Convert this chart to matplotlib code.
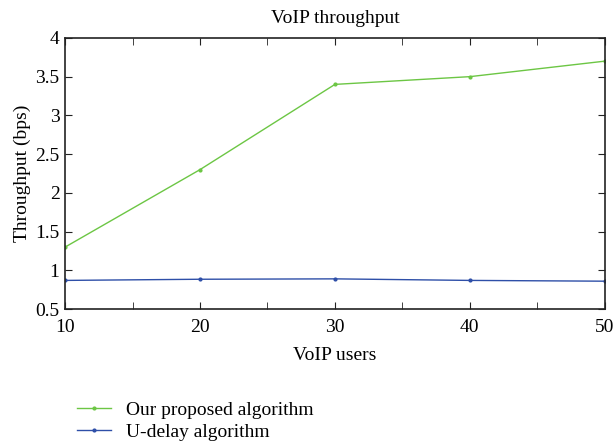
import matplotlib
matplotlib.use('Agg')
import matplotlib.pyplot as plt
from matplotlib.ticker import MultipleLocator

plt.rcParams['font.family'] = ['Liberation Serif', 'DejaVu Serif']

# data
users = [10, 20, 30, 40, 50]
proposed = [1.3, 2.3, 3.4, 3.5, 3.7]
udelay = [0.87, 0.885, 0.89, 0.87, 0.86]
yticks = [0.5, 1, 1.5, 2, 2.5, 3, 3.5, 4]
ylabels = ['0.5', '1', '1.5', '2', '2.5', '3', '3.5', '4']

fig = plt.figure(figsize=(6.14, 4.46), dpi=100)
ax = fig.add_axes([0.106, 0.307, 0.879, 0.608])

ax.plot(users, proposed, color='#6cc644', lw=1.0, marker='o', ms=2,
        label='Our proposed algorithm')
ax.plot(users, udelay, color='#2e4fa8', lw=1.0, marker='o', ms=2,
        label='U-delay algorithm')

ax.set_xlim(10, 50)
ax.set_ylim(0.5, 4)
ax.xaxis.set_major_locator(MultipleLocator(10))
ax.xaxis.set_minor_locator(MultipleLocator(5))
ax.set_yticks(yticks)
ax.set_yticklabels(ylabels)
ax.tick_params(which='both', direction='in', top=True, right=True,
               labelsize=14, color='#222222', length=5)
ax.tick_params(axis='x', pad=7)
ax.tick_params(axis='y', pad=4)
for s in ax.spines.values():
    s.set_linewidth(1.2)
    s.set_color('#222222')

ax.set_title('VoIP throughput', fontsize=14, pad=11)
ax.set_xlabel('VoIP users', fontsize=14, labelpad=8)
ax.set_ylabel('Throughput (bps)', fontsize=14, labelpad=3)

ax.legend(loc='upper left', bbox_to_anchor=(0.007, -0.31), frameon=False,
          fontsize=14, handlelength=1.75, handletextpad=0.77, labelspacing=0.25,
          borderaxespad=0)

fig.savefig('out.png', dpi=100)
